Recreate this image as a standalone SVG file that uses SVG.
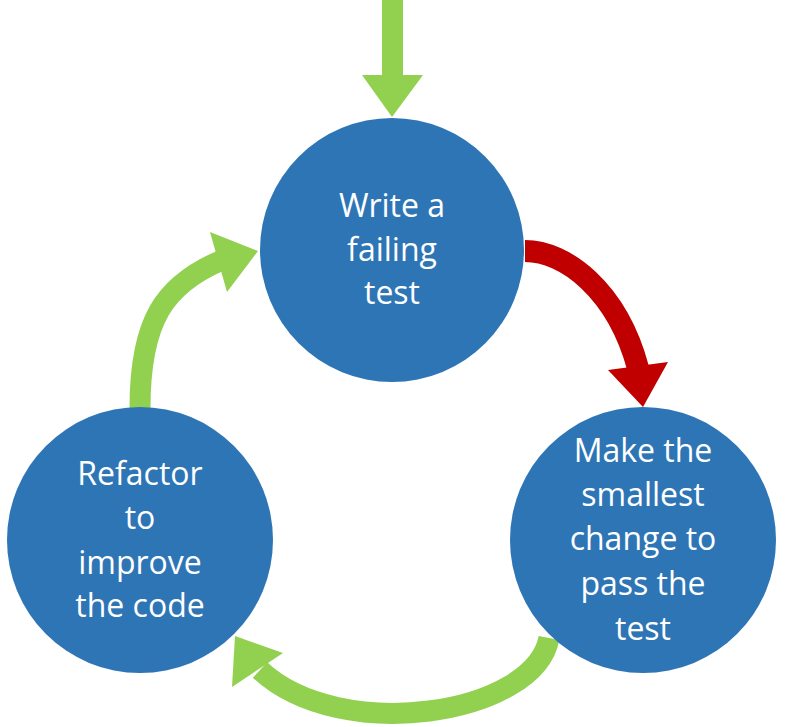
<svg xmlns="http://www.w3.org/2000/svg" width="786" height="727" viewBox="0 0 786 727">
<style>
.node circle{fill:#2E75B6}
.node text{fill:#fff;font-family:"Open Sans","Liberation Sans",sans-serif;font-size:32px;text-anchor:middle}
.green{fill:none;stroke:#92D050;stroke-width:21}
.red{fill:none;stroke:#C00000;stroke-width:22}
</style>
<rect width="786" height="727" fill="#fff"/>
<g id="connectors">
<g id="entry">
<rect x="382" y="0" width="21" height="77" fill="#92D050"/>
<polygon points="362,75 423,75 392,117" fill="#92D050"/>
</g>
<g id="fail-to-pass">
<path class="red" d="M525,251 C565,251 617,290 638,368"/>
<polygon points="608,370 668,362 643,407" fill="#C00000"/>
</g>
<g id="pass-to-refactor">
<path class="green" d="M549,638 C535,715 340,745 260,670"/>
<polygon points="235,636 283,653 232,687" fill="#92D050"/>
</g>
<g id="refactor-to-fail">
<path class="green" d="M140,408 C140,320 165,285 220,261"/>
<polygon points="210,232 258,251 227,292" fill="#92D050"/>
</g>
</g>
<g id="node-write" class="node">
<circle cx="392" cy="250" r="132"/>
<text x="392" y="217">Write a</text>
<text x="392" y="261">failing</text>
<text x="392" y="304">test</text>
</g>
<g id="node-pass" class="node">
<circle cx="643" cy="540" r="133"/>
<text x="643" y="462">Make the</text>
<text x="643" y="506">smallest</text>
<text x="643" y="550">change to</text>
<text x="643" y="595">pass the</text>
<text x="643" y="640">test</text>
</g>
<g id="node-refactor" class="node">
<circle cx="140" cy="540" r="133"/>
<text x="140" y="485">Refactor</text>
<text x="140" y="529">to</text>
<text x="140" y="574">improve</text>
<text x="140" y="617">the code</text>
</g>
</svg>
